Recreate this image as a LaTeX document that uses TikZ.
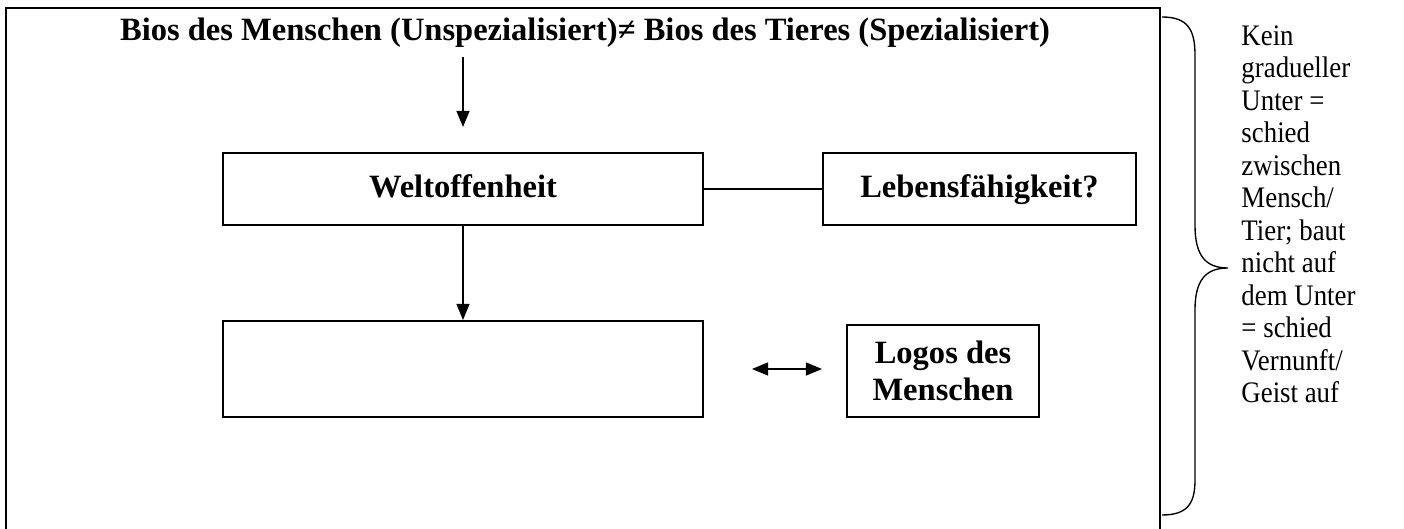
\documentclass[tikz,border=0pt]{standalone}
\usepackage{fontspec}
\setmainfont{Liberation Serif}
\usetikzlibrary{arrows.meta}
\def\px{0.369pt}
\begin{document}
\begin{tikzpicture}[x=0.369pt,y=-0.369pt,
  every node/.style={font=\fontsize{12}{13.5}\selectfont},
  kasten/.style={draw,line width=0.75pt,inner sep=0pt,font=\fontsize{12}{13.5}\selectfont\bfseries},
  zeile/.style={text height=8.5pt,text depth=2.5pt},
  pfeil/.style={line width=0.45pt,-{Triangle[length=16*\px,width=13*\px]}}]
  \useasboundingbox (0,0) rectangle (1404,529);
  \clip (0,0) rectangle (1404,529);
  \draw[line width=0.75pt] (6,8) rectangle (1160,560);
  \node[font=\fontsize{12}{13.5}\selectfont\bfseries] (titel) at (585,33)
    {Bios des Menschen (Unspezialisiert)≠ Bios des Tieres (Spezialisiert)};
  \node[kasten,zeile,minimum width={480*\px},minimum height={72*\px}] (welt) at (463,189) {Weltoffenheit};
  \node[kasten,zeile,minimum width={313*\px},minimum height={72*\px}] (leben) at (979.5,189) {Lebensfähigkeit?};
  \node[kasten,minimum width={480*\px},minimum height={96*\px}] (leer) at (463,369) {};
  \node[kasten,minimum width={192*\px},minimum height={92*\px},align=center] (logos) at (943,371)
    {Logos des\\Menschen};
  \coordinate (spitze) at ([yshift=25*\px]welt.north);
  \draw[pfeil] (titel.south -| welt.north) -- (spitze);
  \draw[line width=0.75pt] (welt.east) -- (leben.west |- welt.east);
  \draw[pfeil] (welt.south) -- (leer.north);
  \draw[pfeil,{Triangle[length=16*\px,width=13*\px]}-{Triangle[length=16*\px,width=13*\px]},
    shorten <=48*\px,shorten >=24*\px] (leer.east) -- (logos.west |- leer.east);
  % geschweifte Klammer
  \draw[line width=0.5pt] (1162,17) .. controls (1188,17) and (1195,30) .. (1195,55)
    -- (1195,225) .. controls (1195,255) and (1205,268) .. (1228,268)
    .. controls (1205,268) and (1195,281) .. (1195,310)
    -- (1195,480) .. controls (1195,503) and (1188,515) .. (1162,515);
  \node[anchor=north west,align=left,inner sep=0pt,xscale=0.9,transform shape,
    font=\fontsize{11}{12}\selectfont] (notiz) at (1241,25)
    {Kein\\gradueller\\Unter =\\schied\\zwischen\\Mensch/\\Tier; baut\\nicht auf\\dem Unter\\= schied\\Vernunft/\\Geist auf};
\end{tikzpicture}
\end{document}
